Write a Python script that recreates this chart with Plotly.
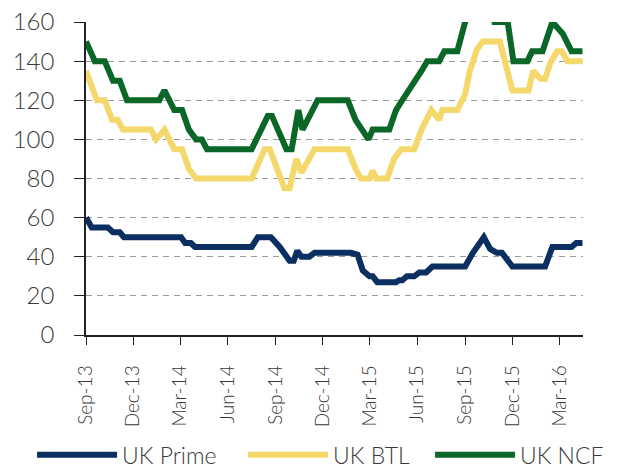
import plotly.graph_objects as go

prime_dates = ["2013-09-01","2013-09-12","2013-10-13","2013-10-23","2013-11-05","2013-11-13","2014-03-03","2014-03-11","2014-03-22","2014-03-30","2014-07-17","2014-07-29","2014-08-23","2014-09-09","2014-09-28","2014-10-06","2014-10-13","2014-10-21","2014-11-05","2014-11-15","2015-01-24","2015-02-06","2015-02-16","2015-03-01","2015-03-07","2015-03-16","2015-04-21","2015-04-27","2015-05-03","2015-05-12","2015-05-26","2015-06-05","2015-06-18","2015-06-30","2015-09-01","2015-09-12","2015-09-16","2015-10-07","2015-10-19","2015-11-01","2015-11-11","2015-12-01","2016-02-02","2016-02-16","2016-03-24","2016-04-02","2016-04-14"]
prime_values = [60,55,55,52.5,52.5,50,50,47,47,45,45,50,50,45,38,38,43,40,40,42,42,41,33,30,30,27,27,28,28,30,30,32,32,35,35,40,42,50,44,42,42,35,35,45,45,47,47]

btl_dates = ["2013-09-01","2013-09-22","2013-10-07","2013-10-21","2013-11-01","2013-11-11","2014-01-04","2014-01-14","2014-01-30","2014-02-18","2014-03-05","2014-03-18","2014-04-01","2014-07-17","2014-08-11","2014-08-21","2014-09-18","2014-09-28","2014-10-11","2014-10-21","2014-11-15","2015-01-18","2015-02-02","2015-02-12","2015-03-01","2015-03-07","2015-03-14","2015-04-04","2015-04-17","2015-05-01","2015-05-26","2015-06-01","2015-06-09","2015-06-28","2015-07-13","2015-07-19","2015-08-17","2015-09-01","2015-09-10","2015-09-24","2015-10-05","2015-11-07","2015-12-01","2016-01-01","2016-01-10","2016-01-24","2016-02-02","2016-02-12","2016-02-25","2016-03-05","2016-03-16","2016-04-14"]
btl_values = [135,120,120,110,110,105,105,100,105,95,95,85,80,80,95,95,75,75,90,83,95,95,85,80,80,84,80,80,90,95,95,100,105,115,110,115,115,123,135,146,150,150,125,125,135,131,131,139,145,145,140,140]

ncf_dates = ["2013-09-01","2013-09-18","2013-10-07","2013-10-23","2013-11-05","2013-11-19","2014-01-20","2014-01-30","2014-02-18","2014-03-05","2014-03-18","2014-04-01","2014-04-12","2014-04-22","2014-07-17","2014-08-17","2014-08-25","2014-09-22","2014-10-02","2014-10-15","2014-10-23","2014-11-21","2015-01-18","2015-02-02","2015-02-27","2015-03-07","2015-04-08","2015-04-21","2015-05-03","2015-05-16","2015-05-30","2015-06-09","2015-06-20","2015-07-13","2015-07-23","2015-08-17","2015-09-01","2015-09-08","2015-10-25","2015-10-28","2015-11-22","2015-12-03","2015-12-30","2016-01-08","2016-01-28","2016-02-16","2016-03-07","2016-03-24","2016-04-14"]
ncf_values = [150,140,140,130,130,120,120,125,115,115,105,100,100,95,95,112,112,95,95,115,105,120,120,110,100,105,105,115,120,125,130,135,140,140,145,145,160,175,175,160,160,140,140,145,145,160,154,145,145]

series_names = ["UK Prime", "UK BTL", "UK NCF"]
series_colors = ["#0B2F61", "#F5D86B", "#0B6728"]
legend_ids = ["legend", "legend2", "legend3"]
legend_x = [0.052, 0.394, 0.697]

y_ticks = [0, 20, 40, 60, 80, 100, 120, 140, 160]
x_tick_dates = ["2013-09-01","2013-12-01","2014-03-01","2014-06-01","2014-09-01","2014-12-01","2015-03-01","2015-06-01","2015-09-01","2015-12-01","2016-03-01"]
x_tick_labels = ["Sep-13","Dec-13","Mar-14","Jun-14","Sep-14","Dec-14","Mar-15","Jun-15","Sep-15","Dec-15","Mar-16"]

fig = go.Figure()
for name, color, lg, xs, ys in zip(series_names, series_colors, legend_ids,
                                   [prime_dates, btl_dates, ncf_dates],
                                   [prime_values, btl_values, ncf_values]):
    fig.add_trace(go.Scatter(x=xs, y=ys, mode="lines", name=name, legend=lg,
                             line=dict(color=color, width=6)))

font_family = "Lato"
text_color = "#3a3a3a"
legend_font = dict(size=23, color=text_color, weight=300)

layout_legends = {}
for lg, lx in zip(legend_ids, legend_x):
    layout_legends[lg] = dict(orientation="h", xref="container", yref="container",
                              x=lx, xanchor="left", y=0.028, yanchor="middle",
                              itemwidth=80, font=legend_font,
                              bgcolor="rgba(0,0,0,0)")

fig.update_layout(
    width=617, height=468,
    margin=dict(l=86, r=34, t=22, b=133),
    paper_bgcolor="white", plot_bgcolor="white",
    font=dict(family=font_family, color=text_color, size=22, weight=300),
    showlegend=True,
    xaxis=dict(type="date", range=["2013-09-01", "2016-04-15"],
               tickmode="array", tickvals=x_tick_dates, ticktext=x_tick_labels,
               tickangle=-90, ticks="outside", ticklen=8, tickcolor="#222222",
               showline=True, linecolor="#222222", linewidth=1.5,
               showgrid=False, zeroline=False, automargin=False,
               ticklabelstandoff=13,
               tickfont=dict(size=19, color=text_color, weight=300)),
    yaxis=dict(range=[0, 160], tickmode="array", tickvals=y_ticks,
               ticks="outside", ticklen=10, tickcolor="#222222",
               showline=True, linecolor="#222222", linewidth=1.5,
               showgrid=True, gridcolor="#9a9a9a", griddash="6px,5px", gridwidth=1,
               zeroline=False, ticklabelstandoff=15, automargin=False,
               tickfont=dict(size=24, color=text_color, weight=300)),
    **layout_legends,
)

fig.write_html("out.html", config={"displayModeBar": False},
               post_script="document.body.style.margin='0px';")
